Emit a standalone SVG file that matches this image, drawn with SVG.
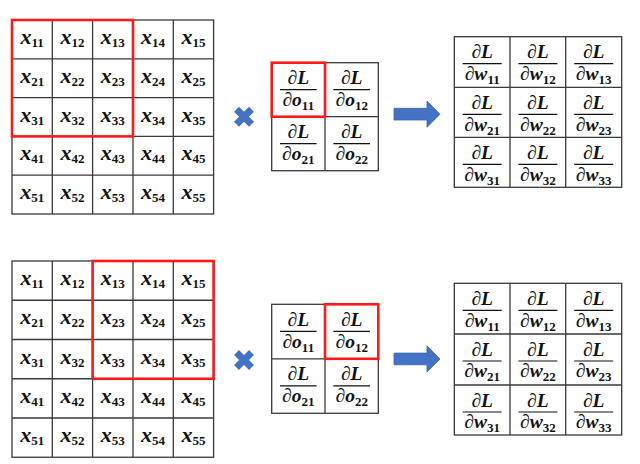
<svg xmlns="http://www.w3.org/2000/svg" xmlns:xlink="http://www.w3.org/1999/xlink" width="640" height="464" viewBox="0 0 640 464">
<style>
.g{fill:none;stroke:#3a3a3a;stroke-width:1.3}
.red{fill:none;stroke:#ff1a1a;stroke-width:2.6}
.t{font-family:"Liberation Serif","DejaVu Serif",serif;font-weight:bold;font-style:italic;font-size:22px;text-anchor:middle;fill:#111}
.s{font-style:normal;font-size:13px}
.f{font-size:19.5px}
.fs{font-style:normal;font-size:13px}
.bar{stroke:#111;stroke-width:1.2}
.blue{fill:#4472c4;stroke:#3b64ad;stroke-width:0.8}
</style>
<defs>
<g id="cross"><path d="M-7.5,-7.5 L7.5,7.5 M-7.5,7.5 L7.5,-7.5" stroke="#4472c4" stroke-width="7" fill="none"/></g>
<polygon id="arrow" class="blue" points="394,-5.9 427,-5.9 427,-13.2 440,0 427,13.1 427,5.8 394,5.8"/>
</defs>
<rect width="640" height="464" fill="#fff"/>

<g id="input-top">
<rect class="g" x="12" y="20" width="201.6" height="194"/>
<path class="g" d="M52.3,20V214M92.6,20V214M133,20V214M173.3,20V214M12,58.8H213.6M12,97.6H213.6M12,136.4H213.6M12,175.2H213.6"/>
<g class="t">
<text x="32.2" y="44">x<tspan class="s" dy="3">11</tspan></text><text x="72.5" y="44">x<tspan class="s" dy="3">12</tspan></text><text x="112.8" y="44">x<tspan class="s" dy="3">13</tspan></text><text x="153.1" y="44">x<tspan class="s" dy="3">14</tspan></text><text x="193.4" y="44">x<tspan class="s" dy="3">15</tspan></text>
<text x="32.2" y="82.8">x<tspan class="s" dy="3">21</tspan></text><text x="72.5" y="82.8">x<tspan class="s" dy="3">22</tspan></text><text x="112.8" y="82.8">x<tspan class="s" dy="3">23</tspan></text><text x="153.1" y="82.8">x<tspan class="s" dy="3">24</tspan></text><text x="193.4" y="82.8">x<tspan class="s" dy="3">25</tspan></text>
<text x="32.2" y="121.6">x<tspan class="s" dy="3">31</tspan></text><text x="72.5" y="121.6">x<tspan class="s" dy="3">32</tspan></text><text x="112.8" y="121.6">x<tspan class="s" dy="3">33</tspan></text><text x="153.1" y="121.6">x<tspan class="s" dy="3">34</tspan></text><text x="193.4" y="121.6">x<tspan class="s" dy="3">35</tspan></text>
<text x="32.2" y="160.4">x<tspan class="s" dy="3">41</tspan></text><text x="72.5" y="160.4">x<tspan class="s" dy="3">42</tspan></text><text x="112.8" y="160.4">x<tspan class="s" dy="3">43</tspan></text><text x="153.1" y="160.4">x<tspan class="s" dy="3">44</tspan></text><text x="193.4" y="160.4">x<tspan class="s" dy="3">45</tspan></text>
<text x="32.2" y="199.2">x<tspan class="s" dy="3">51</tspan></text><text x="72.5" y="199.2">x<tspan class="s" dy="3">52</tspan></text><text x="112.8" y="199.2">x<tspan class="s" dy="3">53</tspan></text><text x="153.1" y="199.2">x<tspan class="s" dy="3">54</tspan></text><text x="193.4" y="199.2">x<tspan class="s" dy="3">55</tspan></text>
</g>
<rect class="red" x="12" y="20" width="121" height="116.4"/>
</g>

<g id="input-bottom">
<rect class="g" x="12" y="261" width="201.6" height="196.25"/>
<path class="g" d="M52.3,261V457.25M92.6,261V457.25M133,261V457.25M173.3,261V457.25M12,300.25H213.6M12,339.5H213.6M12,378.75H213.6M12,418H213.6"/>
<g class="t">
<text x="32.2" y="285">x<tspan class="s" dy="3">11</tspan></text><text x="72.5" y="285">x<tspan class="s" dy="3">12</tspan></text><text x="112.8" y="285">x<tspan class="s" dy="3">13</tspan></text><text x="153.1" y="285">x<tspan class="s" dy="3">14</tspan></text><text x="193.4" y="285">x<tspan class="s" dy="3">15</tspan></text>
<text x="32.2" y="324.25">x<tspan class="s" dy="3">21</tspan></text><text x="72.5" y="324.25">x<tspan class="s" dy="3">22</tspan></text><text x="112.8" y="324.25">x<tspan class="s" dy="3">23</tspan></text><text x="153.1" y="324.25">x<tspan class="s" dy="3">24</tspan></text><text x="193.4" y="324.25">x<tspan class="s" dy="3">25</tspan></text>
<text x="32.2" y="363.5">x<tspan class="s" dy="3">31</tspan></text><text x="72.5" y="363.5">x<tspan class="s" dy="3">32</tspan></text><text x="112.8" y="363.5">x<tspan class="s" dy="3">33</tspan></text><text x="153.1" y="363.5">x<tspan class="s" dy="3">34</tspan></text><text x="193.4" y="363.5">x<tspan class="s" dy="3">35</tspan></text>
<text x="32.2" y="402.75">x<tspan class="s" dy="3">41</tspan></text><text x="72.5" y="402.75">x<tspan class="s" dy="3">42</tspan></text><text x="112.8" y="402.75">x<tspan class="s" dy="3">43</tspan></text><text x="153.1" y="402.75">x<tspan class="s" dy="3">44</tspan></text><text x="193.4" y="402.75">x<tspan class="s" dy="3">45</tspan></text>
<text x="32.2" y="442">x<tspan class="s" dy="3">51</tspan></text><text x="72.5" y="442">x<tspan class="s" dy="3">52</tspan></text><text x="112.8" y="442">x<tspan class="s" dy="3">53</tspan></text><text x="153.1" y="442">x<tspan class="s" dy="3">54</tspan></text><text x="193.4" y="442">x<tspan class="s" dy="3">55</tspan></text>
</g>
<rect class="red" x="92.6" y="261" width="121" height="117.75"/>
</g>

<g id="grad-o-top">
<rect class="g" x="271.7" y="62.7" width="106.6" height="108"/>
<path class="g" d="M325,62.7V170.7M271.7,116.7H378.3"/>
<path class="bar" d="M280,89.7H316.6M333.4,89.7H370M280,143.7H316.6M333.4,143.7H370"/>
<g class="t f">
<text x="298.3" y="84.2">∂L</text><text x="351.7" y="84.2">∂L</text>
<text x="298.3" y="106">∂o<tspan class="fs" dy="4">11</tspan></text><text x="351.7" y="106">∂o<tspan class="fs" dy="4">12</tspan></text>
<text x="298.3" y="138.2">∂L</text><text x="351.7" y="138.2">∂L</text>
<text x="298.3" y="160">∂o<tspan class="fs" dy="4">21</tspan></text><text x="351.7" y="160">∂o<tspan class="fs" dy="4">22</tspan></text>
</g>
<rect class="red" x="271.7" y="62.7" width="53.3" height="54"/>
</g>

<g id="grad-o-bottom">
<rect class="g" x="271.7" y="304.3" width="106.6" height="109"/>
<path class="g" d="M325,304.3V413.3M271.7,358.8H378.3"/>
<path class="bar" d="M280,331.3H316.6M333.4,331.3H370M280,385.8H316.6M333.4,385.8H370"/>
<g class="t f">
<text x="298.3" y="325.8">∂L</text><text x="351.7" y="325.8">∂L</text>
<text x="298.3" y="347.6">∂o<tspan class="fs" dy="4">11</tspan></text><text x="351.7" y="347.6">∂o<tspan class="fs" dy="4">12</tspan></text>
<text x="298.3" y="380.3">∂L</text><text x="351.7" y="380.3">∂L</text>
<text x="298.3" y="402.1">∂o<tspan class="fs" dy="4">21</tspan></text><text x="351.7" y="402.1">∂o<tspan class="fs" dy="4">22</tspan></text>
</g>
<rect class="red" x="325" y="304.3" width="53.3" height="54.5"/>
</g>

<g id="grad-w-top">
<rect class="g" x="454.3" y="36.7" width="167.4" height="150.6"/>
<path class="g" d="M510,36.7V187.3M565.7,36.7V187.3M454.3,87.3H621.7M454.3,137.3H621.7"/>
<path class="bar" d="M462.7,63.7H501.7M518.4,63.7H557.4M574.2,63.7H613.2M462.7,114.3H501.7M518.4,114.3H557.4M574.2,114.3H613.2M462.7,164.3H501.7M518.4,164.3H557.4M574.2,164.3H613.2"/>
<g class="t f">
<text x="482.2" y="58.2">∂L</text><text x="537.9" y="58.2">∂L</text><text x="593.7" y="58.2">∂L</text>
<text x="482.2" y="80">∂w<tspan class="fs" dy="4">11</tspan></text><text x="537.9" y="80">∂w<tspan class="fs" dy="4">12</tspan></text><text x="593.7" y="80">∂w<tspan class="fs" dy="4">13</tspan></text>
<text x="482.2" y="108.8">∂L</text><text x="537.9" y="108.8">∂L</text><text x="593.7" y="108.8">∂L</text>
<text x="482.2" y="130.6">∂w<tspan class="fs" dy="4">21</tspan></text><text x="537.9" y="130.6">∂w<tspan class="fs" dy="4">22</tspan></text><text x="593.7" y="130.6">∂w<tspan class="fs" dy="4">23</tspan></text>
<text x="482.2" y="158.8">∂L</text><text x="537.9" y="158.8">∂L</text><text x="593.7" y="158.8">∂L</text>
<text x="482.2" y="180.6">∂w<tspan class="fs" dy="4">31</tspan></text><text x="537.9" y="180.6">∂w<tspan class="fs" dy="4">32</tspan></text><text x="593.7" y="180.6">∂w<tspan class="fs" dy="4">33</tspan></text>
</g>
</g>

<g id="grad-w-bottom">
<rect class="g" x="454.3" y="283.3" width="167.4" height="151.7"/>
<path class="g" d="M510,283.3V435M565.7,283.3V435M454.3,334H621.7M454.3,385H621.7"/>
<path class="bar" d="M462.7,310.3H501.7M518.4,310.3H557.4M574.2,310.3H613.2M462.7,361H501.7M518.4,361H557.4M574.2,361H613.2M462.7,412H501.7M518.4,412H557.4M574.2,412H613.2"/>
<g class="t f">
<text x="482.2" y="304.8">∂L</text><text x="537.9" y="304.8">∂L</text><text x="593.7" y="304.8">∂L</text>
<text x="482.2" y="326.6">∂w<tspan class="fs" dy="4">11</tspan></text><text x="537.9" y="326.6">∂w<tspan class="fs" dy="4">12</tspan></text><text x="593.7" y="326.6">∂w<tspan class="fs" dy="4">13</tspan></text>
<text x="482.2" y="355.5">∂L</text><text x="537.9" y="355.5">∂L</text><text x="593.7" y="355.5">∂L</text>
<text x="482.2" y="377.3">∂w<tspan class="fs" dy="4">21</tspan></text><text x="537.9" y="377.3">∂w<tspan class="fs" dy="4">22</tspan></text><text x="593.7" y="377.3">∂w<tspan class="fs" dy="4">23</tspan></text>
<text x="482.2" y="406.5">∂L</text><text x="537.9" y="406.5">∂L</text><text x="593.7" y="406.5">∂L</text>
<text x="482.2" y="428.3">∂w<tspan class="fs" dy="4">31</tspan></text><text x="537.9" y="428.3">∂w<tspan class="fs" dy="4">32</tspan></text><text x="593.7" y="428.3">∂w<tspan class="fs" dy="4">33</tspan></text>
</g>
</g>

<g id="multiply-top"><use xlink:href="#cross" transform="translate(244,116.7)"/></g>
<g id="multiply-bottom"><use xlink:href="#cross" transform="translate(244,360)"/></g>

<g id="connectors">
<use xlink:href="#arrow" transform="translate(0,114.2)"/>
<use xlink:href="#arrow" transform="translate(0,359)"/>
</g>
</svg>
